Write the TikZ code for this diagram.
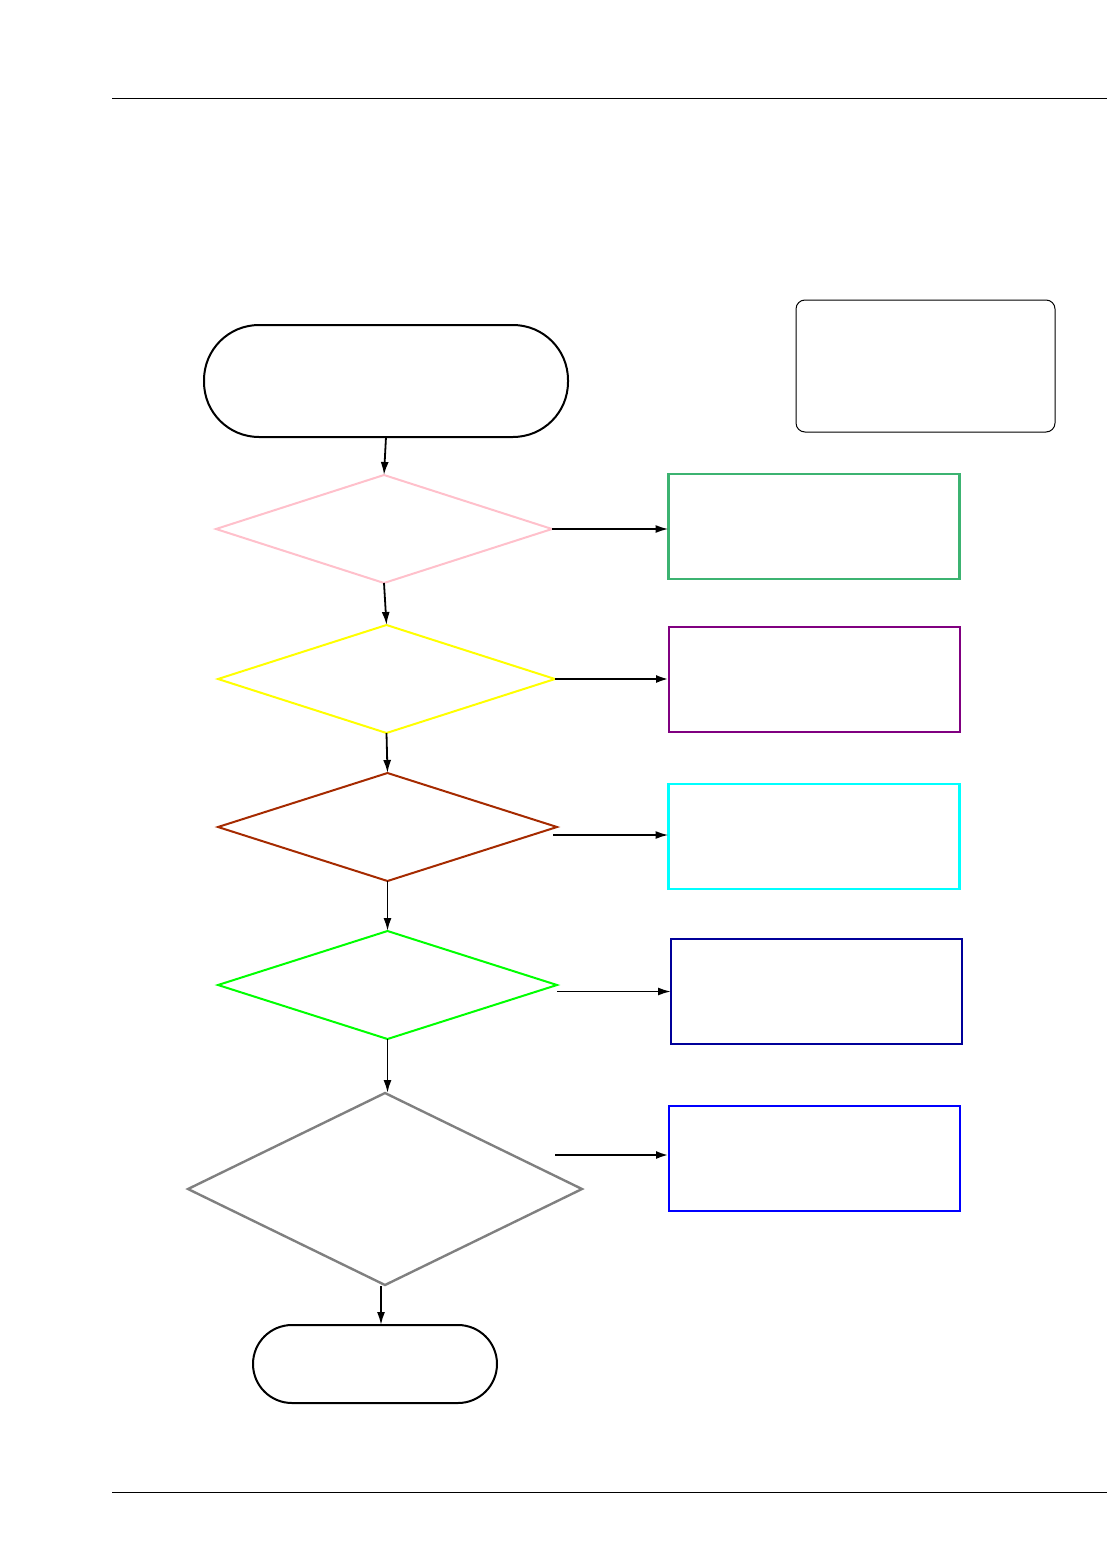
\documentclass[tikz,border=0pt]{standalone}
\usepackage{tikz}
\usetikzlibrary{arrows.meta,shapes.geometric}
\definecolor{decpink}{HTML}{FFC0CB}
\definecolor{decyellow}{HTML}{FFFF00}
\definecolor{decbrown}{HTML}{A52A00}
\definecolor{declime}{HTML}{00FF00}
\definecolor{decgray}{HTML}{808080}
\definecolor{seagreen}{HTML}{3CB371}
\definecolor{deeppurple}{HTML}{800080}
\definecolor{brightcyan}{HTML}{00FFFF}
\definecolor{deepnavy}{HTML}{000099}
\definecolor{brightblue}{HTML}{0000FF}
\tikzset{
  decision/.style={draw, diamond, inner sep=0pt, outer sep=0pt, line width=2pt},
  stepbox/.style={draw, rectangle, inner sep=0pt, outer sep=0pt, minimum width=291pt, minimum height=105pt, line width=2.2pt},
  terminal/.style={draw, rectangle, inner sep=0pt, outer sep=0pt, line width=2pt},
  flow/.style={-{Latex[length=13pt,width=8pt]}, line width=1.8pt},
}
\begin{document}
\begin{tikzpicture}[x=1pt, y=-1pt]
			%%%%% START %%%%%
			\useasboundingbox (0, 0) rectangle (1107, 1554);
			
			\draw[line width=1pt] (112, 99) -- (1107, 99);
			\draw[line width=1pt] (112, 1492) -- (1107, 1492);
			
			\node[terminal, rounded corners=55pt, minimum width=364pt, minimum height=112pt] (start) at (386, 381) {};
			\node[draw, rectangle, rounded corners=9pt, line width=1pt, minimum width=259pt, minimum height=132pt] (legend) at (925.5, 366) {};
			
			\node[decision, color=decpink, minimum width=336pt, minimum height=108pt] (d1) at (384, 529) {};
			\node[decision, color=decyellow, minimum width=337pt, minimum height=108pt] (d2) at (386.5, 679) {};
			\node[decision, color=decbrown, minimum width=339pt, minimum height=108pt] (d3) at (387.5, 827) {};
			\node[decision, color=declime, minimum width=339pt, minimum height=108pt] (d4) at (387.5, 985) {};
			\node[decision, color=decgray, line width=2.4pt, minimum width=394pt, minimum height=192pt] (d5) at (385, 1189) {};
			
			\node[terminal, rounded corners=39pt, minimum width=244pt, minimum height=78pt] (stop) at (375, 1364) {};
			
			\node[stepbox, color=seagreen, line width=2.8pt] (b1) at (814, 526.5) {};
			\node[stepbox, color=deeppurple] (b2) at (814.5, 679.5) {};
			\node[stepbox, color=brightcyan] (b3) at (814, 836.5) {};
			\node[stepbox, color=deepnavy] (b4) at (816.5, 991.5) {};
			\node[stepbox, color=brightblue] (b5) at (814.5, 1158.5) {};
			
			\coordinate (t3) at (553, 835);
			\coordinate (t5) at (555, 1155);
			\coordinate (t6) at (381, 1286);
			
			\draw[flow] (start.south) -- (d1.north);
			\draw[flow] (d1.south) -- (d2.north);
			\draw[flow] (d2.south) -- (d3.north);
			\draw[flow] (d3.south) -- (d4.north);
			\draw[flow] (d4.south) -- (d4.south |- d5.north);
			\draw[flow] (t6) -- (t6 |- stop.north);
			
			\draw[flow] (d1.east) -- (d1.east -| b1.west);
			\draw[flow, line width=2.8pt] (d2.east) -- (d2.east -| b2.west);
			\draw[flow] (t3) -- (t3 -| b3.west);
			\draw[flow] (d4.east |- b4.west) -- (b4.west);
			\draw[flow, line width=2.8pt] (t5) -- (t5 -| b5.west);
			
			%%%%% END %%%%%
		\end{tikzpicture}
\end{document}
